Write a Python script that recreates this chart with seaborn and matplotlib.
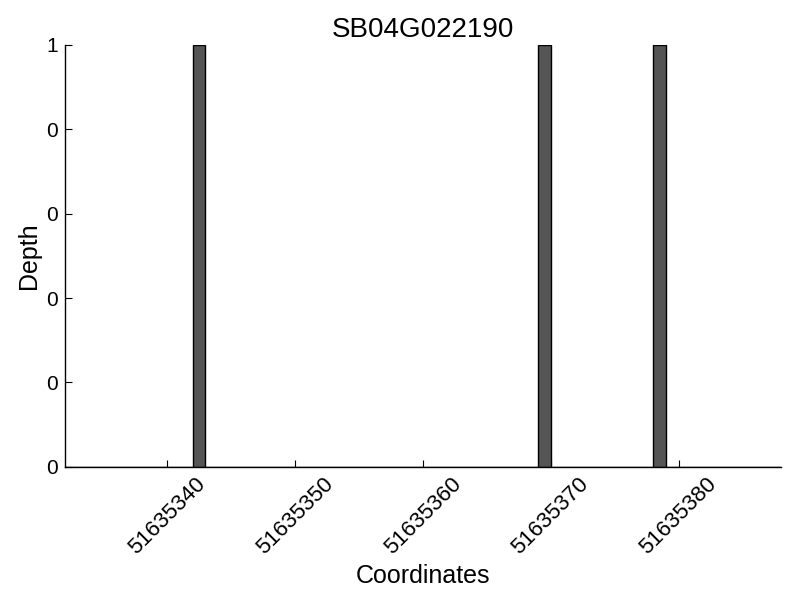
import numpy as np
import pandas as pd
import matplotlib
matplotlib.use("Agg")
import matplotlib.pyplot as plt
import seaborn as sns
from matplotlib.ticker import FormatStrFormatter

# Data
gene = "SB04G022190"
positions = [51635342, 51635369, 51635378]
depths = [1, 1, 1]
x_start, x_end = 51635332, 51635388
x_ticks = [51635340, 51635350, 51635360, 51635370, 51635380]
y_ticks = [0, 0.2, 0.4, 0.6, 0.8, 1.0]

df = pd.DataFrame({"Coordinates": positions, "Depth": depths})

sns.set_theme(style="ticks")
plt.rcParams["font.family"] = ["Liberation Sans", "DejaVu Sans"]
plt.rcParams["text.color"] = "black"
plt.rcParams["axes.labelcolor"] = "black"
plt.rcParams["xtick.color"] = "black"
plt.rcParams["ytick.color"] = "black"

fig = plt.figure(figsize=(8, 6), dpi=100)
ax = fig.add_axes([0.081, 0.222, 0.895, 0.703])

sns.histplot(data=df, x="Coordinates", weights="Depth", binwidth=1,
             binrange=(x_start, x_end), color="#555555", edgecolor="black",
             linewidth=1, alpha=1, ax=ax)

ax.set_xlim(x_start, x_end)
ax.set_ylim(0, 1)
ax.set_xticks(x_ticks)
ax.set_xticklabels([str(t) for t in x_ticks], rotation=45, fontsize=16)
ax.set_yticks(y_ticks)
ax.yaxis.set_major_formatter(FormatStrFormatter("%d"))
ax.tick_params(axis="y", labelsize=15)
ax.tick_params(direction="in", length=5, width=0.8, color="black", pad=5)
sns.despine(ax=ax)
for side in ["left", "bottom"]:
    ax.spines[side].set_color("black")
    ax.spines[side].set_linewidth(1)

ax.set_title(gene, fontsize=20, color="black")
ax.set_xlabel("Coordinates", fontsize=18)
ax.set_ylabel("Depth", fontsize=18)

fig.savefig("out.png", dpi=100)
